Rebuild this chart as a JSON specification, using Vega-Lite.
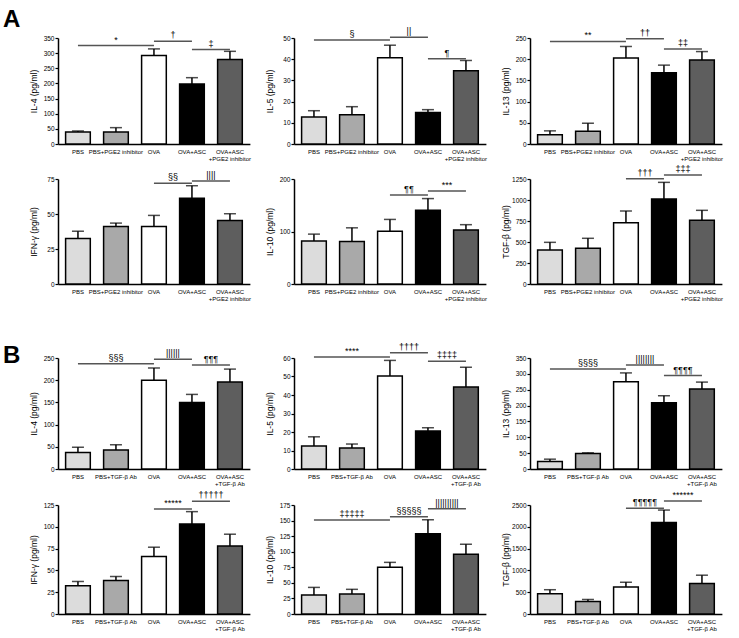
{
"$schema": "https://vega.github.io/schema/vega-lite/v6.json",
"padding": {"left": 3, "top": 8, "right": 5, "bottom": 4},
"datasets": {
"bars": [
{"p":"A1","g":"PBS","mean":40,"upper":43},
{"p":"A1","g":"PBS+PGE2 inhibitor","mean":40,"upper":54},
{"p":"A1","g":"OVA","mean":292,"upper":314},
{"p":"A1","g":"OVA+ASC","mean":198,"upper":219},
{"p":"A1","g":"OVA+ASC +PGE2 inhibitor","mean":279,"upper":306},
{"p":"A2","g":"PBS","mean":12.7,"upper":15.7},
{"p":"A2","g":"PBS+PGE2 inhibitor","mean":13.8,"upper":17.6},
{"p":"A2","g":"OVA","mean":40.7,"upper":46.6},
{"p":"A2","g":"OVA+ASC","mean":14.9,"upper":16.2},
{"p":"A2","g":"OVA+ASC +PGE2 inhibitor","mean":34.5,"upper":39.4},
{"p":"A3","g":"PBS","mean":22,"upper":31},
{"p":"A3","g":"PBS+PGE2 inhibitor","mean":30,"upper":49},
{"p":"A3","g":"OVA","mean":203,"upper":230},
{"p":"A3","g":"OVA+ASC","mean":168,"upper":186},
{"p":"A3","g":"OVA+ASC +PGE2 inhibitor","mean":198,"upper":218},
{"p":"A4","g":"PBS","mean":32.5,"upper":37.7},
{"p":"A4","g":"PBS+PGE2 inhibitor","mean":41,"upper":43.5},
{"p":"A4","g":"OVA","mean":41,"upper":49},
{"p":"A4","g":"OVA+ASC","mean":61.3,"upper":70.2},
{"p":"A4","g":"OVA+ASC +PGE2 inhibitor","mean":45.4,"upper":50.2},
{"p":"A5","g":"PBS","mean":82,"upper":95},
{"p":"A5","g":"PBS+PGE2 inhibitor","mean":81,"upper":107},
{"p":"A5","g":"OVA","mean":100.6,"upper":123},
{"p":"A5","g":"OVA+ASC","mean":140.5,"upper":162.7},
{"p":"A5","g":"OVA+ASC +PGE2 inhibitor","mean":103,"upper":113},
{"p":"A6","g":"PBS","mean":405,"upper":496},
{"p":"A6","g":"PBS+PGE2 inhibitor","mean":425,"upper":544},
{"p":"A6","g":"OVA","mean":730,"upper":869},
{"p":"A6","g":"OVA+ASC","mean":1012,"upper":1210},
{"p":"A6","g":"OVA+ASC +PGE2 inhibitor","mean":758,"upper":877},
{"p":"B1","g":"PBS","mean":37.4,"upper":49},
{"p":"B1","g":"PBS+TGF-β Ab","mean":42.7,"upper":54.6},
{"p":"B1","g":"OVA","mean":200,"upper":227.5},
{"p":"B1","g":"OVA+ASC","mean":150,"upper":168},
{"p":"B1","g":"OVA+ASC +TGF-β Ab","mean":196,"upper":225},
{"p":"B2","g":"PBS","mean":12.4,"upper":17.4},
{"p":"B2","g":"PBS+TGF-β Ab","mean":11.3,"upper":13.5},
{"p":"B2","g":"OVA","mean":50.3,"upper":58.7},
{"p":"B2","g":"OVA+ASC","mean":20.6,"upper":22.3},
{"p":"B2","g":"OVA+ASC +TGF-β Ab","mean":44.3,"upper":55},
{"p":"B3","g":"PBS","mean":24,"upper":31},
{"p":"B3","g":"PBS+TGF-β Ab","mean":49,"upper":51},
{"p":"B3","g":"OVA","mean":275,"upper":303},
{"p":"B3","g":"OVA+ASC","mean":209,"upper":231},
{"p":"B3","g":"OVA+ASC +TGF-β Ab","mean":252,"upper":274},
{"p":"B4","g":"PBS","mean":32.4,"upper":37.3},
{"p":"B4","g":"PBS+TGF-β Ab","mean":38.5,"upper":43},
{"p":"B4","g":"OVA","mean":66,"upper":76.6},
{"p":"B4","g":"OVA+ASC","mean":103.3,"upper":117.4},
{"p":"B4","g":"OVA+ASC +TGF-β Ab","mean":78,"upper":91.5},
{"p":"B5","g":"PBS","mean":30.4,"upper":42.7},
{"p":"B5","g":"PBS+TGF-β Ab","mean":32,"upper":39.6},
{"p":"B5","g":"OVA","mean":75,"upper":82.9},
{"p":"B5","g":"OVA+ASC","mean":128.7,"upper":151.3},
{"p":"B5","g":"OVA+ASC +TGF-β Ab","mean":96,"upper":112},
{"p":"B6","g":"PBS","mean":464,"upper":557},
{"p":"B6","g":"PBS+TGF-β Ab","mean":286,"upper":333},
{"p":"B6","g":"OVA","mean":619,"upper":728},
{"p":"B6","g":"OVA+ASC","mean":2097,"upper":2384},
{"p":"B6","g":"OVA+ASC +TGF-β Ab","mean":697,"upper":890}
],
"sig": [
{"p":"A1","from":"PBS","to":"OVA","level":325,"label":"*"},
{"p":"A1","from":"OVA","to":"OVA+ASC","level":339,"label":"†"},
{"p":"A1","from":"OVA+ASC","to":"OVA+ASC +PGE2 inhibitor","level":312,"label":"‡"},
{"p":"A2","from":"PBS","to":"OVA","level":49,"label":"§"},
{"p":"A2","from":"OVA","to":"OVA+ASC","level":50.3,"label":"||"},
{"p":"A2","from":"OVA+ASC","to":"OVA+ASC +PGE2 inhibitor","level":40.2,"label":"¶"},
{"p":"A3","from":"PBS","to":"OVA","level":242,"label":"**"},
{"p":"A3","from":"OVA","to":"OVA+ASC","level":248,"label":"††"},
{"p":"A3","from":"OVA+ASC","to":"OVA+ASC +PGE2 inhibitor","level":224,"label":"‡‡"},
{"p":"A4","from":"OVA","to":"OVA+ASC","level":72,"label":"§§"},
{"p":"A4","from":"OVA+ASC","to":"OVA+ASC +PGE2 inhibitor","level":73.5,"label":"||||"},
{"p":"A5","from":"OVA","to":"OVA+ASC","level":169.6,"label":"¶¶"},
{"p":"A5","from":"OVA+ASC","to":"OVA+ASC +PGE2 inhibitor","level":177,"label":"***"},
{"p":"A6","from":"OVA","to":"OVA+ASC","level":1254,"label":"†††"},
{"p":"A6","from":"OVA+ASC","to":"OVA+ASC +PGE2 inhibitor","level":1298,"label":"‡‡‡"},
{"p":"B1","from":"PBS","to":"OVA","level":237,"label":"§§§"},
{"p":"B1","from":"OVA","to":"OVA+ASC","level":247,"label":"||||||"},
{"p":"B1","from":"OVA+ASC","to":"OVA+ASC +TGF-β Ab","level":234,"label":"¶¶¶"},
{"p":"B2","from":"PBS","to":"OVA","level":60.6,"label":"****"},
{"p":"B2","from":"OVA","to":"OVA+ASC","level":62.8,"label":"††††"},
{"p":"B2","from":"OVA+ASC","to":"OVA+ASC +TGF-β Ab","level":58.2,"label":"‡‡‡‡"},
{"p":"B3","from":"PBS","to":"OVA","level":315.6,"label":"§§§§"},
{"p":"B3","from":"OVA","to":"OVA+ASC","level":328,"label":"||||||||"},
{"p":"B3","from":"OVA+ASC","to":"OVA+ASC +TGF-β Ab","level":294.6,"label":"¶¶¶¶"},
{"p":"B4","from":"OVA","to":"OVA+ASC","level":120.4,"label":"*****"},
{"p":"B4","from":"OVA+ASC","to":"OVA+ASC +TGF-β Ab","level":129.2,"label":"†††††"},
{"p":"B5","from":"PBS","to":"OVA","level":150.8,"label":"‡‡‡‡‡"},
{"p":"B5","from":"OVA","to":"OVA+ASC","level":156,"label":"§§§§§"},
{"p":"B5","from":"OVA+ASC","to":"OVA+ASC +TGF-β Ab","level":168.8,"label":"||||||||||"},
{"p":"B6","from":"OVA","to":"OVA+ASC","level":2423,"label":"¶¶¶¶¶"},
{"p":"B6","from":"OVA+ASC","to":"OVA+ASC +TGF-β Ab","level":2593,"label":"******"}
]
},
"spacing": 38,
"vconcat": [
{"title": {"text": "A", "offset": -5, "dx": -26}, "spacing": 0, "vconcat": [
{"hconcat": [
{"width": {"step": 38}, "height": 106, "data": {"name": "bars"}, "transform": [{"filter": "datum.p == 'A1'"}],
 "encoding": {"x": {"field": "g", "type": "nominal", "title": null, "scale": {"domain": ["PBS","PBS+PGE2 inhibitor","OVA","OVA+ASC","OVA+ASC +PGE2 inhibitor"], "paddingInner": 0.35, "paddingOuter": 0.2}, "axis": {"labelExpr": "indexof(datum.label, ' +') > 0 ? [slice(datum.label, 0, indexof(datum.label, ' +')), slice(datum.label, indexof(datum.label, ' +') + 1)] : datum.label"}},
  "y": {"field": "mean", "type": "quantitative", "title": "IL-4 (pg/ml)", "scale": {"domain": [0, 350]}, "axis": {"values": [0,50,100,150,200,250,300,350]}}},
 "layer": [
  {"mark": {"type": "bar", "stroke": "black", "strokeWidth": 1.5}, "encoding": {"fill": {"field": "g", "type": "nominal", "legend": null, "scale": {"domain": ["PBS","PBS+PGE2 inhibitor","PBS+TGF-β Ab","OVA","OVA+ASC","OVA+ASC +PGE2 inhibitor","OVA+ASC +TGF-β Ab"], "range": ["#dcdcdc","#a9a9a9","#a9a9a9","#ffffff","#000000","#5e5e5e","#5e5e5e"]}}}},
  {"mark": {"type": "rule", "color": "black", "strokeWidth": 1.5}, "encoding": {"y2": {"field": "upper"}}},
  {"mark": {"type": "tick", "color": "black", "thickness": 1.5, "size": 12}, "encoding": {"y": {"field": "upper", "type": "quantitative", "title": "IL-4 (pg/ml)"}}},
  {"data": {"name": "sig"}, "transform": [{"filter": "datum.p == 'A1'"}], "mark": {"type": "rule", "color": "#555", "strokeWidth": 1.5}, "encoding": {"x": {"field": "from", "type": "nominal", "title": null}, "x2": {"field": "to"}, "y": {"field": "level", "type": "quantitative", "title": "IL-4 (pg/ml)"}}},
  {"data": {"name": "sig"}, "transform": [{"filter": "datum.p == 'A1'"}], "mark": {"type": "text", "baseline": "bottom", "dy": -1, "fontSize": 9, "dx": {"expr": "datum.from == 'PBS' ? 38 : 19"}}, "encoding": {"x": {"field": "from", "type": "nominal", "title": null}, "y": {"field": "level", "type": "quantitative", "title": "IL-4 (pg/ml)"}, "text": {"field": "label"}}}
 ]},
{"width": {"step": 38}, "height": 106, "data": {"name": "bars"}, "transform": [{"filter": "datum.p == 'A2'"}],
 "encoding": {"x": {"field": "g", "type": "nominal", "title": null, "scale": {"domain": ["PBS","PBS+PGE2 inhibitor","OVA","OVA+ASC","OVA+ASC +PGE2 inhibitor"], "paddingInner": 0.35, "paddingOuter": 0.2}, "axis": {"labelExpr": "indexof(datum.label, ' +') > 0 ? [slice(datum.label, 0, indexof(datum.label, ' +')), slice(datum.label, indexof(datum.label, ' +') + 1)] : datum.label"}},
  "y": {"field": "mean", "type": "quantitative", "title": "IL-5 (pg/ml)", "scale": {"domain": [0, 50]}, "axis": {"values": [0,10,20,30,40,50]}}},
 "layer": [
  {"mark": {"type": "bar", "stroke": "black", "strokeWidth": 1.5}, "encoding": {"fill": {"field": "g", "type": "nominal", "legend": null, "scale": {"domain": ["PBS","PBS+PGE2 inhibitor","PBS+TGF-β Ab","OVA","OVA+ASC","OVA+ASC +PGE2 inhibitor","OVA+ASC +TGF-β Ab"], "range": ["#dcdcdc","#a9a9a9","#a9a9a9","#ffffff","#000000","#5e5e5e","#5e5e5e"]}}}},
  {"mark": {"type": "rule", "color": "black", "strokeWidth": 1.5}, "encoding": {"y2": {"field": "upper"}}},
  {"mark": {"type": "tick", "color": "black", "thickness": 1.5, "size": 12}, "encoding": {"y": {"field": "upper", "type": "quantitative", "title": "IL-5 (pg/ml)"}}},
  {"data": {"name": "sig"}, "transform": [{"filter": "datum.p == 'A2'"}], "mark": {"type": "rule", "color": "#555", "strokeWidth": 1.5}, "encoding": {"x": {"field": "from", "type": "nominal", "title": null}, "x2": {"field": "to"}, "y": {"field": "level", "type": "quantitative", "title": "IL-5 (pg/ml)"}}},
  {"data": {"name": "sig"}, "transform": [{"filter": "datum.p == 'A2'"}], "mark": {"type": "text", "baseline": "bottom", "dy": -1, "fontSize": 9, "dx": {"expr": "datum.from == 'PBS' ? 38 : 19"}}, "encoding": {"x": {"field": "from", "type": "nominal", "title": null}, "y": {"field": "level", "type": "quantitative", "title": "IL-5 (pg/ml)"}, "text": {"field": "label"}}}
 ]},
{"width": {"step": 38}, "height": 106, "data": {"name": "bars"}, "transform": [{"filter": "datum.p == 'A3'"}],
 "encoding": {"x": {"field": "g", "type": "nominal", "title": null, "scale": {"domain": ["PBS","PBS+PGE2 inhibitor","OVA","OVA+ASC","OVA+ASC +PGE2 inhibitor"], "paddingInner": 0.35, "paddingOuter": 0.2}, "axis": {"labelExpr": "indexof(datum.label, ' +') > 0 ? [slice(datum.label, 0, indexof(datum.label, ' +')), slice(datum.label, indexof(datum.label, ' +') + 1)] : datum.label"}},
  "y": {"field": "mean", "type": "quantitative", "title": "IL-13 (pg/ml)", "scale": {"domain": [0, 250]}, "axis": {"values": [0,50,100,150,200,250]}}},
 "layer": [
  {"mark": {"type": "bar", "stroke": "black", "strokeWidth": 1.5}, "encoding": {"fill": {"field": "g", "type": "nominal", "legend": null, "scale": {"domain": ["PBS","PBS+PGE2 inhibitor","PBS+TGF-β Ab","OVA","OVA+ASC","OVA+ASC +PGE2 inhibitor","OVA+ASC +TGF-β Ab"], "range": ["#dcdcdc","#a9a9a9","#a9a9a9","#ffffff","#000000","#5e5e5e","#5e5e5e"]}}}},
  {"mark": {"type": "rule", "color": "black", "strokeWidth": 1.5}, "encoding": {"y2": {"field": "upper"}}},
  {"mark": {"type": "tick", "color": "black", "thickness": 1.5, "size": 12}, "encoding": {"y": {"field": "upper", "type": "quantitative", "title": "IL-13 (pg/ml)"}}},
  {"data": {"name": "sig"}, "transform": [{"filter": "datum.p == 'A3'"}], "mark": {"type": "rule", "color": "#555", "strokeWidth": 1.5}, "encoding": {"x": {"field": "from", "type": "nominal", "title": null}, "x2": {"field": "to"}, "y": {"field": "level", "type": "quantitative", "title": "IL-13 (pg/ml)"}}},
  {"data": {"name": "sig"}, "transform": [{"filter": "datum.p == 'A3'"}], "mark": {"type": "text", "baseline": "bottom", "dy": -1, "fontSize": 9, "dx": {"expr": "datum.from == 'PBS' ? 38 : 19"}}, "encoding": {"x": {"field": "from", "type": "nominal", "title": null}, "y": {"field": "level", "type": "quantitative", "title": "IL-13 (pg/ml)"}, "text": {"field": "label"}}}
 ]}
], "bounds": "flush", "spacing": 44},
{"hconcat": [
{"width": {"step": 38}, "height": 105, "data": {"name": "bars"}, "transform": [{"filter": "datum.p == 'A4'"}],
 "encoding": {"x": {"field": "g", "type": "nominal", "title": null, "scale": {"domain": ["PBS","PBS+PGE2 inhibitor","OVA","OVA+ASC","OVA+ASC +PGE2 inhibitor"], "paddingInner": 0.35, "paddingOuter": 0.2}, "axis": {"labelExpr": "indexof(datum.label, ' +') > 0 ? [slice(datum.label, 0, indexof(datum.label, ' +')), slice(datum.label, indexof(datum.label, ' +') + 1)] : datum.label"}},
  "y": {"field": "mean", "type": "quantitative", "title": "IFN-γ (pg/ml)", "scale": {"domain": [0, 75]}, "axis": {"values": [0,25,50,75]}}},
 "layer": [
  {"mark": {"type": "bar", "stroke": "black", "strokeWidth": 1.5}, "encoding": {"fill": {"field": "g", "type": "nominal", "legend": null, "scale": {"domain": ["PBS","PBS+PGE2 inhibitor","PBS+TGF-β Ab","OVA","OVA+ASC","OVA+ASC +PGE2 inhibitor","OVA+ASC +TGF-β Ab"], "range": ["#dcdcdc","#a9a9a9","#a9a9a9","#ffffff","#000000","#5e5e5e","#5e5e5e"]}}}},
  {"mark": {"type": "rule", "color": "black", "strokeWidth": 1.5}, "encoding": {"y2": {"field": "upper"}}},
  {"mark": {"type": "tick", "color": "black", "thickness": 1.5, "size": 12}, "encoding": {"y": {"field": "upper", "type": "quantitative", "title": "IFN-γ (pg/ml)"}}},
  {"data": {"name": "sig"}, "transform": [{"filter": "datum.p == 'A4'"}], "mark": {"type": "rule", "color": "#555", "strokeWidth": 1.5}, "encoding": {"x": {"field": "from", "type": "nominal", "title": null}, "x2": {"field": "to"}, "y": {"field": "level", "type": "quantitative", "title": "IFN-γ (pg/ml)"}}},
  {"data": {"name": "sig"}, "transform": [{"filter": "datum.p == 'A4'"}], "mark": {"type": "text", "baseline": "bottom", "dy": -1, "fontSize": 9, "dx": {"expr": "datum.from == 'PBS' ? 38 : 19"}}, "encoding": {"x": {"field": "from", "type": "nominal", "title": null}, "y": {"field": "level", "type": "quantitative", "title": "IFN-γ (pg/ml)"}, "text": {"field": "label"}}}
 ]},
{"width": {"step": 38}, "height": 105, "data": {"name": "bars"}, "transform": [{"filter": "datum.p == 'A5'"}],
 "encoding": {"x": {"field": "g", "type": "nominal", "title": null, "scale": {"domain": ["PBS","PBS+PGE2 inhibitor","OVA","OVA+ASC","OVA+ASC +PGE2 inhibitor"], "paddingInner": 0.35, "paddingOuter": 0.2}, "axis": {"labelExpr": "indexof(datum.label, ' +') > 0 ? [slice(datum.label, 0, indexof(datum.label, ' +')), slice(datum.label, indexof(datum.label, ' +') + 1)] : datum.label"}},
  "y": {"field": "mean", "type": "quantitative", "title": "IL-10 (pg/ml)", "scale": {"domain": [0, 200]}, "axis": {"values": [0,100,200]}}},
 "layer": [
  {"mark": {"type": "bar", "stroke": "black", "strokeWidth": 1.5}, "encoding": {"fill": {"field": "g", "type": "nominal", "legend": null, "scale": {"domain": ["PBS","PBS+PGE2 inhibitor","PBS+TGF-β Ab","OVA","OVA+ASC","OVA+ASC +PGE2 inhibitor","OVA+ASC +TGF-β Ab"], "range": ["#dcdcdc","#a9a9a9","#a9a9a9","#ffffff","#000000","#5e5e5e","#5e5e5e"]}}}},
  {"mark": {"type": "rule", "color": "black", "strokeWidth": 1.5}, "encoding": {"y2": {"field": "upper"}}},
  {"mark": {"type": "tick", "color": "black", "thickness": 1.5, "size": 12}, "encoding": {"y": {"field": "upper", "type": "quantitative", "title": "IL-10 (pg/ml)"}}},
  {"data": {"name": "sig"}, "transform": [{"filter": "datum.p == 'A5'"}], "mark": {"type": "rule", "color": "#555", "strokeWidth": 1.5}, "encoding": {"x": {"field": "from", "type": "nominal", "title": null}, "x2": {"field": "to"}, "y": {"field": "level", "type": "quantitative", "title": "IL-10 (pg/ml)"}}},
  {"data": {"name": "sig"}, "transform": [{"filter": "datum.p == 'A5'"}], "mark": {"type": "text", "baseline": "bottom", "dy": -1, "fontSize": 9, "dx": {"expr": "datum.from == 'PBS' ? 38 : 19"}}, "encoding": {"x": {"field": "from", "type": "nominal", "title": null}, "y": {"field": "level", "type": "quantitative", "title": "IL-10 (pg/ml)"}, "text": {"field": "label"}}}
 ]},
{"width": {"step": 38}, "height": 105, "data": {"name": "bars"}, "transform": [{"filter": "datum.p == 'A6'"}],
 "encoding": {"x": {"field": "g", "type": "nominal", "title": null, "scale": {"domain": ["PBS","PBS+PGE2 inhibitor","OVA","OVA+ASC","OVA+ASC +PGE2 inhibitor"], "paddingInner": 0.35, "paddingOuter": 0.2}, "axis": {"labelExpr": "indexof(datum.label, ' +') > 0 ? [slice(datum.label, 0, indexof(datum.label, ' +')), slice(datum.label, indexof(datum.label, ' +') + 1)] : datum.label"}},
  "y": {"field": "mean", "type": "quantitative", "title": "TGF-β (pg/ml)", "scale": {"domain": [0, 1250]}, "axis": {"values": [0,250,500,750,1000,1250]}}},
 "layer": [
  {"mark": {"type": "bar", "stroke": "black", "strokeWidth": 1.5}, "encoding": {"fill": {"field": "g", "type": "nominal", "legend": null, "scale": {"domain": ["PBS","PBS+PGE2 inhibitor","PBS+TGF-β Ab","OVA","OVA+ASC","OVA+ASC +PGE2 inhibitor","OVA+ASC +TGF-β Ab"], "range": ["#dcdcdc","#a9a9a9","#a9a9a9","#ffffff","#000000","#5e5e5e","#5e5e5e"]}}}},
  {"mark": {"type": "rule", "color": "black", "strokeWidth": 1.5}, "encoding": {"y2": {"field": "upper"}}},
  {"mark": {"type": "tick", "color": "black", "thickness": 1.5, "size": 12}, "encoding": {"y": {"field": "upper", "type": "quantitative", "title": "TGF-β (pg/ml)"}}},
  {"data": {"name": "sig"}, "transform": [{"filter": "datum.p == 'A6'"}], "mark": {"type": "rule", "color": "#555", "strokeWidth": 1.5}, "encoding": {"x": {"field": "from", "type": "nominal", "title": null}, "x2": {"field": "to"}, "y": {"field": "level", "type": "quantitative", "title": "TGF-β (pg/ml)"}}},
  {"data": {"name": "sig"}, "transform": [{"filter": "datum.p == 'A6'"}], "mark": {"type": "text", "baseline": "bottom", "dy": -1, "fontSize": 9, "dx": {"expr": "datum.from == 'PBS' ? 38 : 19"}}, "encoding": {"x": {"field": "from", "type": "nominal", "title": null}, "y": {"field": "level", "type": "quantitative", "title": "TGF-β (pg/ml)"}, "text": {"field": "label"}}}
 ]}
], "bounds": "flush", "spacing": 44}
]},
{"title": {"text": "B", "offset": -25, "dx": -26}, "spacing": 1, "vconcat": [
{"hconcat": [
{"width": {"step": 38}, "height": 111, "data": {"name": "bars"}, "transform": [{"filter": "datum.p == 'B1'"}],
 "encoding": {"x": {"field": "g", "type": "nominal", "title": null, "scale": {"domain": ["PBS","PBS+TGF-β Ab","OVA","OVA+ASC","OVA+ASC +TGF-β Ab"], "paddingInner": 0.35, "paddingOuter": 0.2}, "axis": {"labelExpr": "indexof(datum.label, ' +') > 0 ? [slice(datum.label, 0, indexof(datum.label, ' +')), slice(datum.label, indexof(datum.label, ' +') + 1)] : datum.label"}},
  "y": {"field": "mean", "type": "quantitative", "title": "IL-4 (pg/ml)", "scale": {"domain": [0, 250]}, "axis": {"values": [0,50,100,150,200,250]}}},
 "layer": [
  {"mark": {"type": "bar", "stroke": "black", "strokeWidth": 1.5}, "encoding": {"fill": {"field": "g", "type": "nominal", "legend": null, "scale": {"domain": ["PBS","PBS+PGE2 inhibitor","PBS+TGF-β Ab","OVA","OVA+ASC","OVA+ASC +PGE2 inhibitor","OVA+ASC +TGF-β Ab"], "range": ["#dcdcdc","#a9a9a9","#a9a9a9","#ffffff","#000000","#5e5e5e","#5e5e5e"]}}}},
  {"mark": {"type": "rule", "color": "black", "strokeWidth": 1.5}, "encoding": {"y2": {"field": "upper"}}},
  {"mark": {"type": "tick", "color": "black", "thickness": 1.5, "size": 12}, "encoding": {"y": {"field": "upper", "type": "quantitative", "title": "IL-4 (pg/ml)"}}},
  {"data": {"name": "sig"}, "transform": [{"filter": "datum.p == 'B1'"}], "mark": {"type": "rule", "color": "#555", "strokeWidth": 1.5}, "encoding": {"x": {"field": "from", "type": "nominal", "title": null}, "x2": {"field": "to"}, "y": {"field": "level", "type": "quantitative", "title": "IL-4 (pg/ml)"}}},
  {"data": {"name": "sig"}, "transform": [{"filter": "datum.p == 'B1'"}], "mark": {"type": "text", "baseline": "bottom", "dy": -1, "fontSize": 9, "dx": {"expr": "datum.from == 'PBS' ? 38 : 19"}}, "encoding": {"x": {"field": "from", "type": "nominal", "title": null}, "y": {"field": "level", "type": "quantitative", "title": "IL-4 (pg/ml)"}, "text": {"field": "label"}}}
 ]},
{"width": {"step": 38}, "height": 111, "data": {"name": "bars"}, "transform": [{"filter": "datum.p == 'B2'"}],
 "encoding": {"x": {"field": "g", "type": "nominal", "title": null, "scale": {"domain": ["PBS","PBS+TGF-β Ab","OVA","OVA+ASC","OVA+ASC +TGF-β Ab"], "paddingInner": 0.35, "paddingOuter": 0.2}, "axis": {"labelExpr": "indexof(datum.label, ' +') > 0 ? [slice(datum.label, 0, indexof(datum.label, ' +')), slice(datum.label, indexof(datum.label, ' +') + 1)] : datum.label"}},
  "y": {"field": "mean", "type": "quantitative", "title": "IL-5 (pg/ml)", "scale": {"domain": [0, 60]}, "axis": {"values": [0,10,20,30,40,50,60]}}},
 "layer": [
  {"mark": {"type": "bar", "stroke": "black", "strokeWidth": 1.5}, "encoding": {"fill": {"field": "g", "type": "nominal", "legend": null, "scale": {"domain": ["PBS","PBS+PGE2 inhibitor","PBS+TGF-β Ab","OVA","OVA+ASC","OVA+ASC +PGE2 inhibitor","OVA+ASC +TGF-β Ab"], "range": ["#dcdcdc","#a9a9a9","#a9a9a9","#ffffff","#000000","#5e5e5e","#5e5e5e"]}}}},
  {"mark": {"type": "rule", "color": "black", "strokeWidth": 1.5}, "encoding": {"y2": {"field": "upper"}}},
  {"mark": {"type": "tick", "color": "black", "thickness": 1.5, "size": 12}, "encoding": {"y": {"field": "upper", "type": "quantitative", "title": "IL-5 (pg/ml)"}}},
  {"data": {"name": "sig"}, "transform": [{"filter": "datum.p == 'B2'"}], "mark": {"type": "rule", "color": "#555", "strokeWidth": 1.5}, "encoding": {"x": {"field": "from", "type": "nominal", "title": null}, "x2": {"field": "to"}, "y": {"field": "level", "type": "quantitative", "title": "IL-5 (pg/ml)"}}},
  {"data": {"name": "sig"}, "transform": [{"filter": "datum.p == 'B2'"}], "mark": {"type": "text", "baseline": "bottom", "dy": -1, "fontSize": 9, "dx": {"expr": "datum.from == 'PBS' ? 38 : 19"}}, "encoding": {"x": {"field": "from", "type": "nominal", "title": null}, "y": {"field": "level", "type": "quantitative", "title": "IL-5 (pg/ml)"}, "text": {"field": "label"}}}
 ]},
{"width": {"step": 38}, "height": 111, "data": {"name": "bars"}, "transform": [{"filter": "datum.p == 'B3'"}],
 "encoding": {"x": {"field": "g", "type": "nominal", "title": null, "scale": {"domain": ["PBS","PBS+TGF-β Ab","OVA","OVA+ASC","OVA+ASC +TGF-β Ab"], "paddingInner": 0.35, "paddingOuter": 0.2}, "axis": {"labelExpr": "indexof(datum.label, ' +') > 0 ? [slice(datum.label, 0, indexof(datum.label, ' +')), slice(datum.label, indexof(datum.label, ' +') + 1)] : datum.label"}},
  "y": {"field": "mean", "type": "quantitative", "title": "IL-13 (pg/ml)", "scale": {"domain": [0, 350]}, "axis": {"values": [0,50,100,150,200,250,300,350]}}},
 "layer": [
  {"mark": {"type": "bar", "stroke": "black", "strokeWidth": 1.5}, "encoding": {"fill": {"field": "g", "type": "nominal", "legend": null, "scale": {"domain": ["PBS","PBS+PGE2 inhibitor","PBS+TGF-β Ab","OVA","OVA+ASC","OVA+ASC +PGE2 inhibitor","OVA+ASC +TGF-β Ab"], "range": ["#dcdcdc","#a9a9a9","#a9a9a9","#ffffff","#000000","#5e5e5e","#5e5e5e"]}}}},
  {"mark": {"type": "rule", "color": "black", "strokeWidth": 1.5}, "encoding": {"y2": {"field": "upper"}}},
  {"mark": {"type": "tick", "color": "black", "thickness": 1.5, "size": 12}, "encoding": {"y": {"field": "upper", "type": "quantitative", "title": "IL-13 (pg/ml)"}}},
  {"data": {"name": "sig"}, "transform": [{"filter": "datum.p == 'B3'"}], "mark": {"type": "rule", "color": "#555", "strokeWidth": 1.5}, "encoding": {"x": {"field": "from", "type": "nominal", "title": null}, "x2": {"field": "to"}, "y": {"field": "level", "type": "quantitative", "title": "IL-13 (pg/ml)"}}},
  {"data": {"name": "sig"}, "transform": [{"filter": "datum.p == 'B3'"}], "mark": {"type": "text", "baseline": "bottom", "dy": -1, "fontSize": 9, "dx": {"expr": "datum.from == 'PBS' ? 38 : 19"}}, "encoding": {"x": {"field": "from", "type": "nominal", "title": null}, "y": {"field": "level", "type": "quantitative", "title": "IL-13 (pg/ml)"}, "text": {"field": "label"}}}
 ]}
], "bounds": "flush", "spacing": 44},
{"hconcat": [
{"width": {"step": 38}, "height": 109, "data": {"name": "bars"}, "transform": [{"filter": "datum.p == 'B4'"}],
 "encoding": {"x": {"field": "g", "type": "nominal", "title": null, "scale": {"domain": ["PBS","PBS+TGF-β Ab","OVA","OVA+ASC","OVA+ASC +TGF-β Ab"], "paddingInner": 0.35, "paddingOuter": 0.2}, "axis": {"labelExpr": "indexof(datum.label, ' +') > 0 ? [slice(datum.label, 0, indexof(datum.label, ' +')), slice(datum.label, indexof(datum.label, ' +') + 1)] : datum.label"}},
  "y": {"field": "mean", "type": "quantitative", "title": "IFN-γ (pg/ml)", "scale": {"domain": [0, 125]}, "axis": {"values": [0,25,50,75,100,125]}}},
 "layer": [
  {"mark": {"type": "bar", "stroke": "black", "strokeWidth": 1.5}, "encoding": {"fill": {"field": "g", "type": "nominal", "legend": null, "scale": {"domain": ["PBS","PBS+PGE2 inhibitor","PBS+TGF-β Ab","OVA","OVA+ASC","OVA+ASC +PGE2 inhibitor","OVA+ASC +TGF-β Ab"], "range": ["#dcdcdc","#a9a9a9","#a9a9a9","#ffffff","#000000","#5e5e5e","#5e5e5e"]}}}},
  {"mark": {"type": "rule", "color": "black", "strokeWidth": 1.5}, "encoding": {"y2": {"field": "upper"}}},
  {"mark": {"type": "tick", "color": "black", "thickness": 1.5, "size": 12}, "encoding": {"y": {"field": "upper", "type": "quantitative", "title": "IFN-γ (pg/ml)"}}},
  {"data": {"name": "sig"}, "transform": [{"filter": "datum.p == 'B4'"}], "mark": {"type": "rule", "color": "#555", "strokeWidth": 1.5}, "encoding": {"x": {"field": "from", "type": "nominal", "title": null}, "x2": {"field": "to"}, "y": {"field": "level", "type": "quantitative", "title": "IFN-γ (pg/ml)"}}},
  {"data": {"name": "sig"}, "transform": [{"filter": "datum.p == 'B4'"}], "mark": {"type": "text", "baseline": "bottom", "dy": -1, "fontSize": 9, "dx": {"expr": "datum.from == 'PBS' ? 38 : 19"}}, "encoding": {"x": {"field": "from", "type": "nominal", "title": null}, "y": {"field": "level", "type": "quantitative", "title": "IFN-γ (pg/ml)"}, "text": {"field": "label"}}}
 ]},
{"width": {"step": 38}, "height": 109, "data": {"name": "bars"}, "transform": [{"filter": "datum.p == 'B5'"}],
 "encoding": {"x": {"field": "g", "type": "nominal", "title": null, "scale": {"domain": ["PBS","PBS+TGF-β Ab","OVA","OVA+ASC","OVA+ASC +TGF-β Ab"], "paddingInner": 0.35, "paddingOuter": 0.2}, "axis": {"labelExpr": "indexof(datum.label, ' +') > 0 ? [slice(datum.label, 0, indexof(datum.label, ' +')), slice(datum.label, indexof(datum.label, ' +') + 1)] : datum.label"}},
  "y": {"field": "mean", "type": "quantitative", "title": "IL-10 (pg/ml)", "scale": {"domain": [0, 175]}, "axis": {"values": [0,25,50,75,100,125,150,175]}}},
 "layer": [
  {"mark": {"type": "bar", "stroke": "black", "strokeWidth": 1.5}, "encoding": {"fill": {"field": "g", "type": "nominal", "legend": null, "scale": {"domain": ["PBS","PBS+PGE2 inhibitor","PBS+TGF-β Ab","OVA","OVA+ASC","OVA+ASC +PGE2 inhibitor","OVA+ASC +TGF-β Ab"], "range": ["#dcdcdc","#a9a9a9","#a9a9a9","#ffffff","#000000","#5e5e5e","#5e5e5e"]}}}},
  {"mark": {"type": "rule", "color": "black", "strokeWidth": 1.5}, "encoding": {"y2": {"field": "upper"}}},
  {"mark": {"type": "tick", "color": "black", "thickness": 1.5, "size": 12}, "encoding": {"y": {"field": "upper", "type": "quantitative", "title": "IL-10 (pg/ml)"}}},
  {"data": {"name": "sig"}, "transform": [{"filter": "datum.p == 'B5'"}], "mark": {"type": "rule", "color": "#555", "strokeWidth": 1.5}, "encoding": {"x": {"field": "from", "type": "nominal", "title": null}, "x2": {"field": "to"}, "y": {"field": "level", "type": "quantitative", "title": "IL-10 (pg/ml)"}}},
  {"data": {"name": "sig"}, "transform": [{"filter": "datum.p == 'B5'"}], "mark": {"type": "text", "baseline": "bottom", "dy": -1, "fontSize": 9, "dx": {"expr": "datum.from == 'PBS' ? 38 : 19"}}, "encoding": {"x": {"field": "from", "type": "nominal", "title": null}, "y": {"field": "level", "type": "quantitative", "title": "IL-10 (pg/ml)"}, "text": {"field": "label"}}}
 ]},
{"width": {"step": 38}, "height": 109, "data": {"name": "bars"}, "transform": [{"filter": "datum.p == 'B6'"}],
 "encoding": {"x": {"field": "g", "type": "nominal", "title": null, "scale": {"domain": ["PBS","PBS+TGF-β Ab","OVA","OVA+ASC","OVA+ASC +TGF-β Ab"], "paddingInner": 0.35, "paddingOuter": 0.2}, "axis": {"labelExpr": "indexof(datum.label, ' +') > 0 ? [slice(datum.label, 0, indexof(datum.label, ' +')), slice(datum.label, indexof(datum.label, ' +') + 1)] : datum.label"}},
  "y": {"field": "mean", "type": "quantitative", "title": "TGF-β (pg/ml)", "scale": {"domain": [0, 2500]}, "axis": {"values": [0,500,1000,1500,2000,2500]}}},
 "layer": [
  {"mark": {"type": "bar", "stroke": "black", "strokeWidth": 1.5}, "encoding": {"fill": {"field": "g", "type": "nominal", "legend": null, "scale": {"domain": ["PBS","PBS+PGE2 inhibitor","PBS+TGF-β Ab","OVA","OVA+ASC","OVA+ASC +PGE2 inhibitor","OVA+ASC +TGF-β Ab"], "range": ["#dcdcdc","#a9a9a9","#a9a9a9","#ffffff","#000000","#5e5e5e","#5e5e5e"]}}}},
  {"mark": {"type": "rule", "color": "black", "strokeWidth": 1.5}, "encoding": {"y2": {"field": "upper"}}},
  {"mark": {"type": "tick", "color": "black", "thickness": 1.5, "size": 12}, "encoding": {"y": {"field": "upper", "type": "quantitative", "title": "TGF-β (pg/ml)"}}},
  {"data": {"name": "sig"}, "transform": [{"filter": "datum.p == 'B6'"}], "mark": {"type": "rule", "color": "#555", "strokeWidth": 1.5}, "encoding": {"x": {"field": "from", "type": "nominal", "title": null}, "x2": {"field": "to"}, "y": {"field": "level", "type": "quantitative", "title": "TGF-β (pg/ml)"}}},
  {"data": {"name": "sig"}, "transform": [{"filter": "datum.p == 'B6'"}], "mark": {"type": "text", "baseline": "bottom", "dy": -1, "fontSize": 9, "dx": {"expr": "datum.from == 'PBS' ? 38 : 19"}}, "encoding": {"x": {"field": "from", "type": "nominal", "title": null}, "y": {"field": "level", "type": "quantitative", "title": "TGF-β (pg/ml)"}, "text": {"field": "label"}}}
 ]}
], "bounds": "flush", "spacing": 44}
]}
],
"config": {
 "font": "Liberation Sans",
 "numberFormat": "d",
 "view": {"stroke": null},
 "axis": {"grid": false, "domainColor": "black", "domainWidth": 1.5, "tickColor": "black", "labelColor": "black", "titleColor": "black", "labelFont": "Liberation Sans", "titleFont": "Liberation Sans"},
 "axisY": {"tickSize": 3, "tickWidth": 1.2, "labelFontSize": 6.5, "labelPadding": 1, "titleFontSize": 8.5, "titleFontWeight": "normal", "titlePadding": 4, "minExtent": 16, "maxExtent": 16},
 "axisX": {"ticks": false, "labelFontSize": 6, "labelAngle": 0, "labelPadding": 4, "minExtent": 20, "maxExtent": 20, "labelLineHeight": 7, "labelBaseline": "top"},
 "title": {"fontSize": 24, "fontWeight": "bold", "anchor": "start", "color": "black", "font": "Liberation Sans"},
 "text": {"font": "Liberation Sans", "color": "black"}
}
}
